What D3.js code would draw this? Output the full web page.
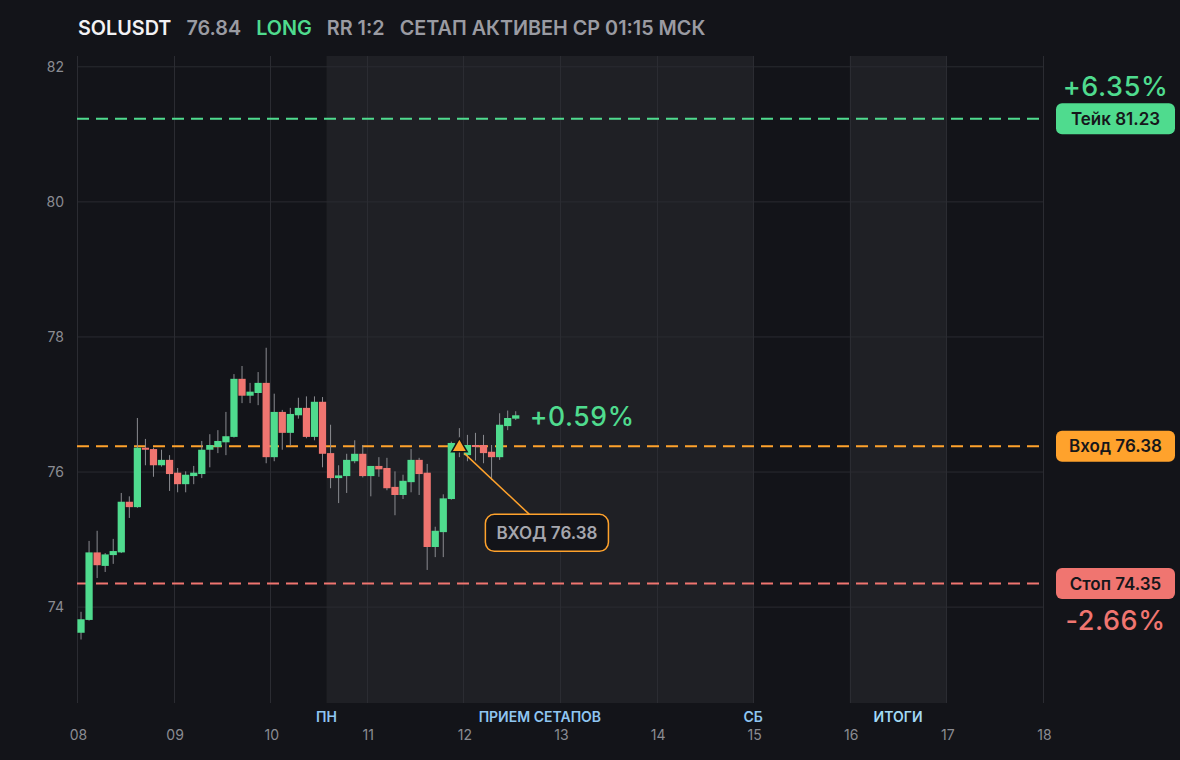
<!DOCTYPE html>
<html>
<head>
<meta charset="utf-8">
<script src="https://cdn.jsdelivr.net/npm/d3@7"></script>
<style>
  html, body { margin: 0; background: #131419; }
  svg { display: block; font-family: Inter, "Noto Sans", sans-serif; }
</style>
</head>
<body>
<div id="chart"></div>
<script>
// SOLUSDT, 2h candles from 08 Dec
var candleStart = '2024-12-08T00:00:00Z';
var candleHours = 2;
var opens  = [73.62,73.81,74.81,74.61,74.77,74.81,75.56,75.48,76.36,76.34,76.10,76.18,75.99,75.82,75.94,75.97,76.33,76.37,76.44,76.52,77.38,77.13,77.17,77.32,76.22,76.89,76.58,76.84,76.95,76.52,77.04,76.28,75.91,75.94,76.16,76.27,75.94,76.09,76.06,75.78,75.66,75.85,76.18,75.99,74.89,75.11,75.60,76.43,76.25,76.40,76.40,76.30,76.22,76.68,76.79];
var highs  = [73.93,74.98,75.13,74.80,75.01,75.69,75.64,76.80,76.49,76.36,76.33,76.25,76.06,76.01,76.09,76.46,76.56,76.62,76.89,77.45,77.57,77.32,77.48,77.84,77.16,76.92,76.95,77.10,77.12,77.12,77.11,76.70,76.10,76.27,76.47,76.40,76.09,76.22,76.21,76.01,75.96,76.34,76.21,76.12,75.19,75.67,76.45,76.65,76.55,76.58,76.55,76.40,76.87,76.91,76.90];
var lows   = [73.52,73.80,74.43,74.52,74.64,74.80,75.32,75.47,76.10,75.93,76.08,75.72,75.70,75.70,75.82,75.91,76.07,76.28,76.25,76.51,77.02,77.02,76.99,76.13,76.16,76.33,76.39,76.79,76.50,76.47,76.07,75.76,75.54,75.69,76.13,75.92,75.64,75.93,75.73,75.36,75.60,75.70,75.66,74.55,74.74,74.74,75.59,76.22,76.16,76.17,76.13,75.88,76.18,76.62,76.77];
var closes = [73.82,74.81,74.62,74.78,74.83,75.56,75.48,76.36,76.33,76.10,76.18,75.97,75.82,75.96,75.99,76.33,76.40,76.46,76.53,77.38,77.13,77.19,77.32,76.22,76.89,76.58,76.86,76.95,76.52,77.04,76.27,75.91,75.95,76.18,76.27,75.94,76.09,76.04,75.76,75.66,75.87,76.18,75.97,74.89,75.13,75.61,76.43,76.33,76.40,76.37,76.28,76.22,76.70,76.80,76.84];

var yTicks = [74, 76, 78, 80, 82];
var dayTicks = ['2024-12-08','2024-12-09','2024-12-10','2024-12-11','2024-12-12','2024-12-13','2024-12-14','2024-12-15','2024-12-16','2024-12-17','2024-12-18'];

// shaded zones and their captions
var bandFrom = ['2024-12-10T14:00:00Z', '2024-12-16T00:00:00Z'];
var bandTo   = ['2024-12-15T00:00:00Z', '2024-12-17T00:00:00Z'];
var zoneText = ['ПН', 'ПРИЕМ СЕТАПОВ', 'СБ', 'ИТОГИ'];
var zoneAt   = ['2024-12-10T14:00:00Z', '2024-12-12T19:00:00Z', '2024-12-15T00:00:00Z', '2024-12-16T12:00:00Z'];

// trade levels
var levelNames  = ['Тейк', 'Вход', 'Стоп'];
var levelValues = [81.23, 76.38, 74.35];
var levelColors = ['#4fdb8e', '#ffa22c', '#f07570'];
var takePct = '+6.35%';
var stopPct = '-2.66%';
var entryTime = '2024-12-11T23:00:00Z';
var lastPct = '+0.59%';

var titleParts  = ['SOLUSDT', '76.84', 'LONG', 'RR 1:2', 'СЕТАП АКТИВЕН СР 01:15 МСК'];
var titleColors = ['#f2f2f4', '#9a9ba2', '#4fdb8e', '#9a9ba2', '#9a9ba2'];

var W = 1180, H = 760;
var MARGIN = { TOP: 56, RIGHT: 137, BOTTOM: 57, LEFT: 77 };
var GREEN = '#4fdb8e', RED = '#f07570';

var svg = d3.select('#chart').append('svg')
  .attr('width', W)
  .attr('height', H);

svg.append('rect').attr('width', W).attr('height', H).attr('fill', '#131419');

var parse = function(s) { return new Date(s); };

var x = d3.scaleUtc()
  .domain([parse(dayTicks[0]), parse(dayTicks[dayTicks.length - 1])])
  .range([MARGIN.LEFT, W - MARGIN.RIGHT]);

var y = d3.scaleLinear()
  .domain([72.58, 82.16])
  .range([H - MARGIN.BOTTOM, MARGIN.TOP]);

var t0 = parse(candleStart).getTime();
var step = candleHours * 3600e3;
var candles = opens.map(function(o, i) {
  return {
    t: new Date(t0 + i * step),
    t1: new Date(t0 + (i + 1) * step),
    o: o, h: highs[i], l: lows[i], c: closes[i]
  };
});

// zones
svg.selectAll('.band')
  .data(bandFrom)
  .enter().append('rect')
  .attr('class', 'band')
  .attr('x', function(d) { return x(parse(d)); })
  .attr('width', function(d, i) { return x(parse(bandTo[i])) - x(parse(d)); })
  .attr('y', MARGIN.TOP)
  .attr('height', y.range()[0] - MARGIN.TOP)
  .attr('fill', '#1f2025');

// grid
svg.append('g')
  .selectAll('line')
  .data(yTicks)
  .enter().append('line')
  .attr('x1', x.range()[0]).attr('x2', x.range()[1])
  .attr('y1', function(d) { return y(d); })
  .attr('y2', function(d) { return y(d); })
  .attr('stroke', '#2a2b31')
  .attr('stroke-width', 1);

svg.append('g')
  .selectAll('line')
  .data(dayTicks)
  .enter().append('line')
  .attr('x1', function(d) { return Math.round(x(parse(d))) + 0.5; })
  .attr('x2', function(d) { return Math.round(x(parse(d))) + 0.5; })
  .attr('y1', MARGIN.TOP)
  .attr('y2', y.range()[0])
  .attr('stroke', '#2b2c32')
  .attr('stroke-width', 1);

// axis labels
var yAxis = d3.axisLeft(y).tickValues(yTicks).tickSize(0).tickPadding(13);
var gy = svg.append('g')
  .attr('transform', 'translate(' + MARGIN.LEFT + ',0)')
  .call(yAxis);
gy.select('.domain').remove();
gy.selectAll('text').attr('fill', '#8b8c93').style('font-size', '14px').style('font-family', 'Inter');

var xAxis = d3.axisBottom(x)
  .tickValues(dayTicks.map(parse))
  .tickFormat(d3.utcFormat('%d'))
  .tickSize(0)
  .tickPadding(27);
var gx = svg.append('g')
  .attr('transform', 'translate(1,' + y.range()[0] + ')')
  .call(xAxis);
gx.select('.domain').remove();
gx.selectAll('text').attr('fill', '#8b8c93').style('font-size', '14px').style('font-family', 'Inter');

svg.append('g')
  .selectAll('text')
  .data(zoneText)
  .enter().append('text')
  .attr('x', function(d, i) { return x(parse(zoneAt[i])); })
  .attr('y', 722)
  .attr('text-anchor', 'middle')
  .attr('fill', function(d) { return d === 'ИТОГИ' ? '#a2daf6' : '#8fc6f2'; })
  .style('font-size', '14px')
  .style('font-weight', 600)
  .text(function(d) { return d; });

// level lines
svg.append('g')
  .selectAll('line')
  .data(levelValues)
  .enter().append('line')
  .attr('x1', x.range()[0]).attr('x2', x.range()[1])
  .attr('y1', function(d) { return y(d); })
  .attr('y2', function(d) { return y(d); })
  .attr('stroke', function(d, i) { return levelColors[i]; })
  .attr('stroke-width', 2)
  .attr('stroke-dasharray', '12,7');

// candles
var cg = svg.append('g');
cg.selectAll('.wick')
  .data(candles)
  .enter().append('line')
  .attr('class', 'wick')
  .attr('x1', function(d) { return (x(d.t) + x(d.t1)) / 2; })
  .attr('x2', function(d) { return (x(d.t) + x(d.t1)) / 2; })
  .attr('y1', function(d) { return y(d.h); })
  .attr('y2', function(d) { return y(d.l); })
  .attr('stroke', '#8a8b90')
  .attr('stroke-width', 1);

cg.selectAll('.body')
  .data(candles)
  .enter().append('rect')
  .attr('class', 'body')
  .attr('x', function(d) { return x(d.t) + 0.4; })
  .attr('width', function(d) { return x(d.t1) - x(d.t) - 0.8; })
  .attr('y', function(d) { return y(Math.max(d.o, d.c)); })
  .attr('height', function(d) { return Math.max(1.5, Math.abs(y(d.o) - y(d.c))); })
  .attr('fill', function(d) { return d.c >= d.o ? GREEN : RED; });

// last move
var last = candles[candles.length - 1];
svg.append('text')
  .attr('x', x(last.t1) + 10)
  .attr('y', y(last.c))
  .attr('dy', '0.4em')
  .attr('fill', GREEN)
  .style('font-size', '26.5px')
  .style('font-weight', 500)
  .style('letter-spacing', '0.6px')
  .text(lastPct);

// entry marker + callout
var ex = x(parse(entryTime)), ey = y(levelValues[1]);
var boxX = ex + 26, boxY = ey + 68, boxH = 37;

svg.append('line')
  .attr('x1', ex + 5).attr('y1', ey + 7)
  .attr('x2', boxX + 44).attr('y2', boxY)
  .attr('stroke', levelColors[1])
  .attr('stroke-width', 1.5);

svg.append('path')
  .attr('d', d3.symbol().type(d3.symbolTriangle).size(105)())
  .attr('transform', 'translate(' + ex + ',' + (ey + 1) + ')')
  .attr('fill', levelColors[1])
  .attr('stroke', '#15161a')
  .attr('stroke-width', 1.5);

var callBox = svg.append('rect')
  .attr('x', boxX).attr('y', boxY)
  .attr('height', boxH)
  .attr('rx', 9)
  .attr('fill', '#131419')
  .attr('stroke', levelColors[1])
  .attr('stroke-width', 1.5);
var callText = svg.append('text')
  .attr('y', boxY + boxH / 2)
  .attr('dy', '0.36em')
  .attr('fill', '#a6a7ae')
  .style('font-size', '17px')
  .style('font-weight', 600)
  .text('ВХОД ' + levelValues[1].toFixed(2));
var cw = callText.node().getComputedTextLength();
var bw = Math.max(123, cw + 22);
callBox.attr('width', bw);
callText.attr('x', boxX + bw / 2).attr('text-anchor', 'middle');

// right price tags
var tagX = 1056, tagW = 119, tagH = 31;
var tags = svg.append('g')
  .selectAll('g')
  .data(levelValues)
  .enter().append('g')
  .attr('transform', function(d) { return 'translate(' + tagX + ',' + (y(d) - tagH / 2) + ')'; });
tags.append('rect')
  .attr('width', tagW).attr('height', tagH).attr('rx', 6)
  .attr('fill', function(d, i) { return levelColors[i]; });
tags.append('text')
  .attr('x', tagW / 2).attr('y', tagH / 2).attr('dy', '0.36em')
  .attr('text-anchor', 'middle')
  .attr('fill', '#16171b')
  .style('font-size', '17px')
  .style('font-weight', 600)
  .text(function(d, i) { return levelNames[i] + ' ' + d.toFixed(2); });

svg.append('text')
  .attr('x', tagX + tagW / 2).attr('y', y(levelValues[0]) - tagH / 2 - 7)
  .attr('text-anchor', 'middle')
  .attr('fill', GREEN)
  .style('font-size', '27px').style('font-weight', 500).style('letter-spacing', '0.6px')
  .text(takePct);

svg.append('text')
  .attr('x', tagX + tagW / 2).attr('y', y(levelValues[2]) + tagH / 2 + 31)
  .attr('text-anchor', 'middle')
  .attr('fill', RED)
  .style('font-size', '27px').style('font-weight', 500).style('letter-spacing', '0.6px')
  .text(stopPct);

// title
var tx = 78;
titleParts.forEach(function(s, i) {
  var t = svg.append('text')
    .attr('x', tx).attr('y', 35)
    .attr('fill', titleColors[i])
    .style('font-size', '19.8px')
    .style('font-weight', 600)
    .text(s);
  tx += t.node().getComputedTextLength() + 15;
});
</script>
</body>
</html>
